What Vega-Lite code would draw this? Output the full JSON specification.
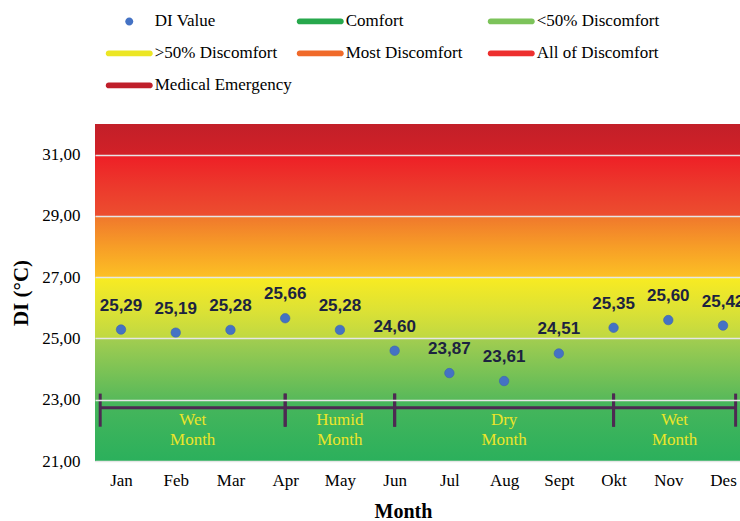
{
  "$schema": "https://vega.github.io/schema/vega-lite/v6.json",
  "width": 645,
  "height": 337,
  "autosize": {"type": "none"},
  "padding": {"left": 95, "top": 124, "right": 0, "bottom": 60},
  "background": "white",
  "datasets": {
    "di": [
      {"month": "Jan", "month_no": 1, "di": 25.29},
      {"month": "Feb", "month_no": 2, "di": 25.19},
      {"month": "Mar", "month_no": 3, "di": 25.28},
      {"month": "Apr", "month_no": 4, "di": 25.66},
      {"month": "May", "month_no": 5, "di": 25.28},
      {"month": "Jun", "month_no": 6, "di": 24.60},
      {"month": "Jul", "month_no": 7, "di": 23.87},
      {"month": "Aug", "month_no": 8, "di": 23.61},
      {"month": "Sept", "month_no": 9, "di": 24.51},
      {"month": "Okt", "month_no": 10, "di": 25.35},
      {"month": "Nov", "month_no": 11, "di": 25.60},
      {"month": "Des", "month_no": 12, "di": 25.42}
    ],
    "seasons": [
      {"season": "Wet Month", "start": 0.62, "end": 4},
      {"season": "Humid Month", "start": 4, "end": 6},
      {"season": "Dry Month", "start": 6, "end": 10},
      {"season": "Wet Month", "start": 10, "end": 12.23}
    ],
    "band": [
      {"low": 21, "high": 32}
    ],
    "legend": [
      {"cat": "DI Value"},
      {"cat": "Comfort"},
      {"cat": "<50% Discomfort"},
      {"cat": ">50% Discomfort"},
      {"cat": "Most Discomfort"},
      {"cat": "All of Discomfort"},
      {"cat": "Medical Emergency"}
    ]
  },
  "config": {
    "locale": {"number": {"decimal": ",", "thousands": ".", "grouping": [3], "currency": ["", ""]}},
    "view": {"stroke": "#d9d0d6", "strokeWidth": 1},
    "axis": {
      "labelFont": "Liberation Serif",
      "labelColor": "#000000",
      "titleFont": "Liberation Serif",
      "titleColor": "#000000",
      "domain": false,
      "ticks": false
    },
    "legend": {
      "labelFont": "Liberation Serif",
      "labelFontSize": 17,
      "labelColor": "#000000",
      "labelOffset": 13.5,
      "labelLimit": 300,
      "symbolSize": 552,
      "symbolStrokeWidth": 0,
      "symbolOpacity": 1,
      "padding": 0
    }
  },
  "layer": [
    {
      "data": {"name": "band"},
      "mark": {
        "type": "rect",
        "color": {
          "gradient": "linear", "x1": 0, "y1": 1, "x2": 0, "y2": 0,
          "stops": [
            {"offset": 0, "color": "#2bb05c"},
            {"offset": 0.18, "color": "#48b65b"},
            {"offset": 0.182, "color": "#58b95a"},
            {"offset": 0.3618, "color": "#a2cd50"},
            {"offset": 0.3636, "color": "#bfd842"},
            {"offset": 0.45, "color": "#dde234"},
            {"offset": 0.5436, "color": "#f8eb22"},
            {"offset": 0.5455, "color": "#fcc024"},
            {"offset": 0.6364, "color": "#f79d27"},
            {"offset": 0.7255, "color": "#f0782c"},
            {"offset": 0.7273, "color": "#ec4e2f"},
            {"offset": 0.8182, "color": "#ec382c"},
            {"offset": 0.9073, "color": "#ee1f26"},
            {"offset": 0.9091, "color": "#d22127"},
            {"offset": 1, "color": "#c21f29"}
          ]
        }
      },
      "encoding": {
        "x": {"datum": 0.525, "type": "quantitative",
          "scale": {"domain": [0.525, 12.31], "nice": false, "zero": false},
          "axis": {
            "values": [1, 2, 3, 4, 5, 6, 7, 8, 9, 10, 11, 12],
            "labelExpr": "['Jan','Feb','Mar','Apr','May','Jun','Jul','Aug','Sept','Okt','Nov','Des'][datum.value - 1]",
            "grid": false,
            "labelFontSize": 17,
            "labelPadding": 11,
            "title": "Month",
            "titleFontSize": 20,
            "titleFontWeight": "bold",
            "titleX": 308,
            "titleY": 50,
            "titleBaseline": "middle"
          }},
        "x2": {"datum": 12.31},
        "y": {"field": "low", "type": "quantitative",
          "scale": {"domain": [21, 32], "nice": false, "zero": false},
          "axis": {
            "values": [21, 23, 25, 27, 29, 31],
            "format": ".2f",
            "grid": true,
            "gridColor": "#e6e6e6",
            "gridWidth": 1.5,
            "zindex": 1,
            "labelFontSize": 17,
            "labelPadding": 15,
            "title": "DI (°C)",
            "titleFontSize": 21,
            "titleFontWeight": "bold",
            "titlePadding": 10
          }},
        "y2": {"field": "high"}
      }
    },
    {
      "data": {"name": "seasons"},
      "mark": {"type": "rule", "color": "#4d2a52", "strokeWidth": 3},
      "encoding": {
        "x": {"field": "start", "type": "quantitative"},
        "x2": {"field": "end"},
        "y": {"datum": 22.74, "type": "quantitative"}
      }
    },
    {
      "data": {"name": "seasons"},
      "transform": [{"fold": ["start", "end"], "as": ["edge", "pos"]}],
      "mark": {"type": "rule", "color": "#4d2a52", "strokeWidth": 3},
      "encoding": {
        "x": {"field": "pos", "type": "quantitative"},
        "y": {"datum": 23.2, "type": "quantitative"},
        "y2": {"datum": 22.12}
      }
    },
    {
      "data": {"name": "seasons"},
      "transform": [{"calculate": "(datum.start + datum.end) / 2", "as": "mid"}],
      "mark": {"type": "text", "font": "Liberation Serif", "fontSize": 17, "color": "#ece52a", "lineBreak": " ", "lineHeight": 20, "baseline": "middle", "align": "center"},
      "encoding": {
        "x": {"field": "mid", "type": "quantitative"},
        "y": {"datum": 22.34, "type": "quantitative"},
        "text": {"field": "season"}
      }
    },
    {
      "data": {"name": "di"},
      "mark": {"type": "circle", "size": 90, "opacity": 1, "color": "#4472c4", "stroke": "#3a63b0", "strokeWidth": 0.6},
      "encoding": {
        "x": {"field": "month_no", "type": "quantitative"},
        "y": {"field": "di", "type": "quantitative"}
      }
    },
    {
      "data": {"name": "di"},
      "mark": {"type": "text", "font": "Liberation Sans", "fontWeight": "bold", "fontSize": 17, "color": "#1c2340", "dy": -24, "baseline": "middle"},
      "encoding": {
        "x": {"field": "month_no", "type": "quantitative"},
        "y": {"field": "di", "type": "quantitative"},
        "text": {"field": "di", "type": "quantitative", "format": ".2f"}
      }
    },
    {
      "data": {"name": "legend"},
      "mark": {"type": "point", "filled": true, "opacity": 0},
      "encoding": {
        "color": {
          "field": "cat", "type": "nominal",
          "scale": {
            "domain": ["DI Value", "Comfort", "<50% Discomfort", ">50% Discomfort", "Most Discomfort", "All of Discomfort", "Medical Emergency"],
            "range": ["#4472c4", "#27a84c", "#7cc35a", "#ece624", "#f06a2a", "#ed2f2e", "#bf1f2b"]
          },
          "legend": {
            "title": null,
            "orient": "none",
            "direction": "horizontal",
            "legendX": 22.25,
            "legendY": -114.6,
            "columns": 3,
            "gridAlign": "all",
            "columnPadding": 4,
            "rowPadding": 12,
            "encode": {"symbols": {"update": {"opacity": {"value": 1}}}}
          }
        },
        "shape": {
          "field": "cat", "type": "nominal",
          "scale": {
            "domain": ["DI Value", "Comfort", "<50% Discomfort", ">50% Discomfort", "Most Discomfort", "All of Discomfort", "Medical Emergency"],
            "range": [
              "M-0.34,0A0.34,0.34,0,1,1,0.34,0A0.34,0.34,0,1,1,-0.34,0Z",
              "M-1.75,-0.25H1.75A0.25,0.25,0,0,1,1.75,0.25H-1.75A0.25,0.25,0,0,1,-1.75,-0.25Z",
              "M-1.75,-0.25H1.75A0.25,0.25,0,0,1,1.75,0.25H-1.75A0.25,0.25,0,0,1,-1.75,-0.25Z",
              "M-1.75,-0.25H1.75A0.25,0.25,0,0,1,1.75,0.25H-1.75A0.25,0.25,0,0,1,-1.75,-0.25Z",
              "M-1.75,-0.25H1.75A0.25,0.25,0,0,1,1.75,0.25H-1.75A0.25,0.25,0,0,1,-1.75,-0.25Z",
              "M-1.75,-0.25H1.75A0.25,0.25,0,0,1,1.75,0.25H-1.75A0.25,0.25,0,0,1,-1.75,-0.25Z",
              "M-1.75,-0.25H1.75A0.25,0.25,0,0,1,1.75,0.25H-1.75A0.25,0.25,0,0,1,-1.75,-0.25Z"
            ]
          }
        }
      }
    }
  ]
}
